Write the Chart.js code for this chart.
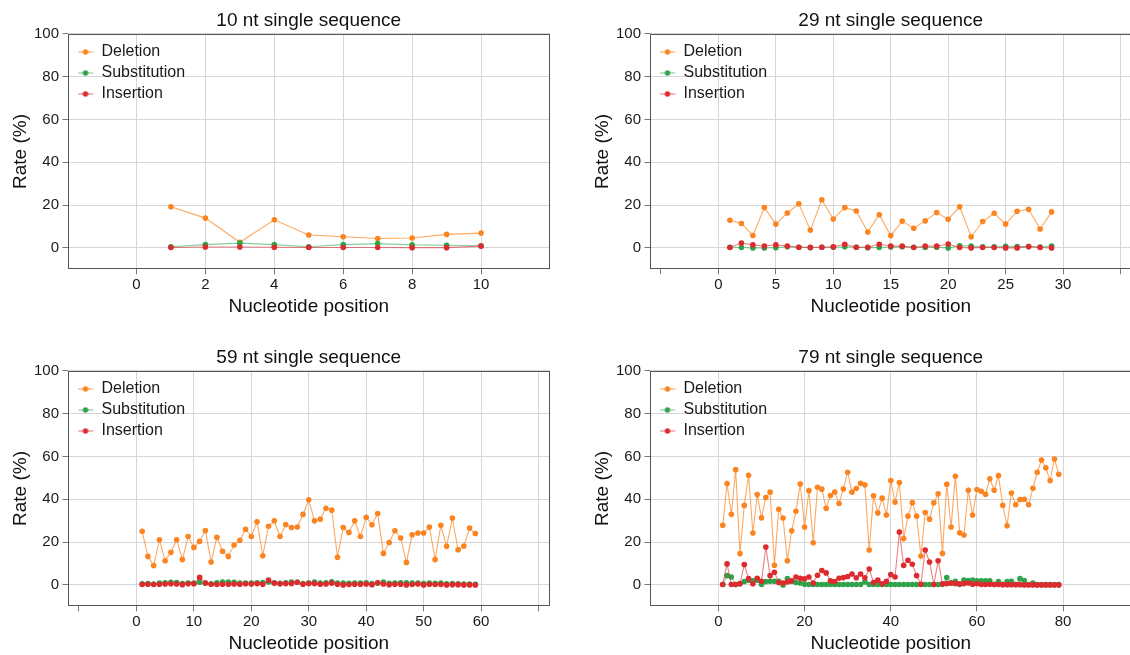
<!DOCTYPE html>
<html>
<head>
<meta charset="utf-8">
<script src="https://cdn.jsdelivr.net/npm/chart.js@4.4.1/dist/chart.umd.min.js"></script>
<style>
  html, body { margin: 0; padding: 0; background: #ffffff; overflow: hidden; }
  #wrap { position: relative; width: 1130px; height: 655px; overflow: hidden; }
  canvas { position: absolute; }
</style>
</head>
<body>
<div id="wrap">
  <canvas id="c1" width="565" height="327" style="left:0px;top:0px;width:565px;height:327px"></canvas>
  <canvas id="c2" width="565" height="327" style="left:582px;top:0px;width:565px;height:327px"></canvas>
  <canvas id="c3" width="565" height="327" style="left:0px;top:337px;width:565px;height:327px"></canvas>
  <canvas id="c4" width="565" height="327" style="left:582px;top:337px;width:565px;height:327px"></canvas>
</div>
<script>
// ---------------- DATA ----------------
const seriesNames = ['Deletion', 'Substitution', 'Insertion'];
const panelTitles = ['10 nt single sequence', '29 nt single sequence', '59 nt single sequence', '79 nt single sequence'];
const xTitle = 'Nucleotide position';
const yTitle = 'Rate (%)';
const yTicks = [0, 20, 40, 60, 80, 100];

// x-axis ticks and their labels for each panel
const xTicks10 = [0, 2, 4, 6, 8, 10];
const xTickLabels10 = ['0', '2', '4', '6', '8', '10'];
const xTicks29 = [-5, 0, 5, 10, 15, 20, 25, 30, 35];
const xTickLabels29 = ['', '0', '5', '10', '15', '20', '25', '30', ''];
const xTicks59 = [-10, 0, 10, 20, 30, 40, 50, 60, 70];
const xTickLabels59 = ['', '0', '10', '20', '30', '40', '50', '60', ''];
const xTicks79 = [0, 20, 40, 60, 80];
const xTickLabels79 = ['0', '20', '40', '60', '80'];

// 10 nt
const del10 = [19.2, 13.9, 2.6, 13.1, 6.0, 5.2, 4.4, 4.6, 6.3, 6.9];
const sub10 = [0.5, 1.5, 2.2, 1.5, 0.5, 1.5, 2.0, 1.4, 1.2, 1.0];
const ins10 = [0.2, 0.4, 0.4, 0.3, 0.2, 0.2, 0.2, 0.1, 0.1, 0.8];

// 29 nt
const del29 = [12.9, 11.4, 5.8, 18.8, 11.1, 16.3, 20.6, 8.3, 22.5, 13.5, 18.8, 17.2, 7.4, 15.5, 5.8,
               12.5, 9.2, 12.6, 16.5, 13.4, 19.2, 5.2, 12.3, 16.2, 11.1, 17.1, 18.0, 8.8, 16.8];
const sub29 = [0.3, 0.2, 0.0, 0.0, 0.1, 0.5, 0.3, 0.1, 0.3, 0.3, 0.5, 0.3, 0.1, 0.2, 0.4,
               0.5, 0.3, 0.2, 0.3, 0.0, 1.0, 0.8, 0.5, 0.5, 0.7, 0.6, 0.6, 0.4, 0.9];
const ins29 = [0.2, 2.3, 1.4, 0.9, 1.4, 0.9, 0.3, 0.3, 0.3, 0.5, 1.7, 0.3, 0.3, 1.7, 0.9,
               0.8, 0.2, 0.8, 0.8, 1.8, 0.2, 0.0, 0.2, 0.2, 0.0, 0.0, 0.6, 0.2, 0.0];

// 59 nt
const del59 = [25.0, 13.3, 9.0, 21.1, 11.3, 15.2, 21.1, 11.8, 22.6, 17.5, 20.3, 25.4, 10.7, 22.2, 15.7,
               13.3, 18.6, 20.8, 26.0, 22.6, 29.5, 13.6, 27.4, 29.9, 22.6, 28.2, 26.8, 27.0, 32.9, 39.7,
               29.9, 30.7, 35.8, 34.9, 12.9, 26.8, 24.5, 29.9, 22.6, 31.5, 28.1, 33.3, 14.7, 19.8, 25.3,
               21.9, 10.5, 23.4, 24.2, 24.2, 27.0, 11.8, 27.8, 18.0, 31.2, 16.4, 18.1, 26.5, 24.0];
const sub59 = [0.5, 0.6, 0.4, 0.8, 1.0, 1.2, 1.1, 0.6, 0.9, 0.9, 1.2, 0.9, 0.5, 1.0, 1.3,
               1.3, 1.2, 0.8, 0.9, 0.9, 1.0, 1.1, 1.4, 1.0, 0.7, 1.0, 1.3, 1.2, 0.6, 0.8,
               1.3, 0.8, 1.0, 1.4, 0.9, 0.8, 0.7, 0.9, 0.9, 1.0, 0.6, 0.8, 1.3, 0.7, 0.9,
               1.0, 1.0, 0.8, 0.9, 0.6, 0.8, 0.7, 0.8, 0.5, 0.6, 0.5, 0.4, 0.4, 0.3];
const ins59 = [0.2, 0.3, 0.2, 0.3, 0.4, 0.5, 0.4, 0.1, 0.5, 0.5, 3.5, 0.8, 0.3, 0.2, 0.3,
               0.3, 0.4, 0.3, 0.5, 0.4, 0.6, 0.3, 2.2, 0.8, 0.5, 0.6, 0.7, 1.2, 0.3, 0.7,
               0.6, 0.3, 0.4, 0.8, 0.3, 0.0, 0.2, 0.3, 0.3, 0.4, 0.1, 1.0, 0.4, 0.1, 0.3,
               0.3, 0.0, 0.2, 0.4, 0.0, 0.3, 0.2, 0.2, 0.0, 0.1, 0.1, 0.0, 0.0, 0.0];

// 79 nt
const del79 = [27.8, 47.3, 33.0, 53.8, 14.6, 37.1, 51.2, 24.2, 42.2, 31.3, 40.8, 43.3, 9.2, 35.3, 31.2,
               11.3, 25.3, 34.4, 47.1, 27.0, 44.0, 19.7, 45.6, 44.7, 35.8, 41.7, 43.4, 38.0, 44.8, 52.6,
               43.3, 45.0, 47.4, 46.7, 16.3, 41.6, 33.6, 40.5, 32.6, 48.7, 38.6, 47.8, 21.6, 32.1, 38.4,
               32.1, 13.5, 33.8, 30.7, 38.3, 42.5, 14.7, 47.0, 27.0, 50.7, 24.3, 23.3, 44.2, 32.6, 44.5,
               43.7, 42.3, 49.5, 44.2, 51.0, 37.2, 27.6, 42.9, 37.4, 39.8, 40.0, 37.4, 45.1, 52.6, 58.3,
               54.7, 48.7, 58.8, 51.6];
const sub79 = [0.2, 4.3, 3.7, 0.2, 0.5, 1.6, 2.2, 1.9, 2.2, 0.2, 1.6, 1.7, 1.7, 1.7, 0.0,
               2.9, 1.7, 1.1, 0.9, 0.3, 0.2, 0.2, 0.2, 0.2, 0.2, 0.2, 0.2, 0.2, 0.2, 0.2,
               0.2, 0.2, 0.2, 1.4, 0.2, 0.2, 0.2, 0.2, 0.2, 0.2, 0.2, 0.2, 0.2, 0.2, 0.2,
               0.2, 0.2, 0.2, 0.2, 0.2, 0.2, 0.2, 3.4, 0.8, 1.7, 0.2, 2.2, 2.0, 2.2, 1.9,
               1.9, 1.9, 1.9, 0.2, 1.6, 0.2, 1.6, 1.7, 0.2, 2.9, 2.0, 0.2, 0.8, 0.1, 0.1,
               0.1, 0.1, 0.1, 0.1];
const ins79 = [0.2, 9.8, 0.2, 0.2, 0.6, 9.5, 2.9, 0.5, 3.1, 1.7, 17.7, 4.3, 5.9, 1.1, 0.9,
               1.4, 1.9, 3.7, 3.1, 2.8, 3.7, 0.9, 4.5, 6.7, 5.6, 1.9, 1.6, 3.1, 3.4, 3.9,
               5.1, 3.3, 5.1, 3.3, 7.4, 1.1, 2.2, 0.5, 1.7, 4.8, 3.7, 24.7, 9.1, 11.5, 9.6,
               4.3, 0.3, 16.3, 10.7, 0.2, 11.3, 0.5, 0.6, 0.9, 0.6, 0.5, 0.6, 0.9, 0.3, 0.6,
               0.2, 0.2, 0.3, 0.2, 0.2, 0.1, 0.1, 0.1, 0.1, 0.1, 0.0, 0.0, 0.0, 0.0, 0.0,
               0.0, 0.0, 0.0, 0.0];

// ---------------- STYLE ----------------
const FONT = "'Liberation Sans', Arial, Helvetica, sans-serif";
Chart.defaults.font.family = FONT;
Chart.defaults.color = '#1a1a1a';

const dotColors = ['#fb8420', '#2ea34a', '#dc2a2e'];
const lineColors = ['rgba(251,140,45,0.75)', 'rgba(60,170,90,0.6)', 'rgba(220,45,50,0.6)'];
const gridColor = '#d6d6d6';
const frameColor = '#555555';

function makeMarker(i) {
  const c = document.createElement('canvas');
  c.width = 16; c.height = 8;
  const g = c.getContext('2d');
  g.strokeStyle = lineColors[i];
  g.lineWidth = 1.2;
  g.beginPath(); g.moveTo(0.5, 4); g.lineTo(15.5, 4); g.stroke();
  g.fillStyle = dotColors[i];
  g.beginPath(); g.arc(8, 4, 2.7, 0, Math.PI * 2); g.fill();
  return c;
}
const markers = [0, 1, 2].map(makeMarker);

const framePlugin = {
  id: 'frame',
  afterLayout(chart) {
    // put the legend box in the top-left corner of the plot area
    const lg = chart.legend, a = chart.chartArea;
    if (lg) {
      const w = lg.width, h = lg.height;
      lg.left = a.left + 5; lg.top = a.top + 2;
      lg.right = lg.left + w; lg.bottom = lg.top + h;
    }
  },
  afterDatasetsDraw(chart) {
    const a = chart.chartArea, ctx = chart.ctx;
    const l = Math.round(a.left) + 0.5, t = Math.round(a.top) + 0.5;
    const r = Math.round(a.right) - 0.5, b = Math.round(a.bottom) - 0.5;
    ctx.save();
    ctx.strokeStyle = frameColor;
    ctx.lineWidth = 1;
    ctx.strokeRect(l, t, r - l, b - t);
    ctx.restore();
  }
};

function range1(n) { const a = []; for (let i = 1; i <= n; i++) a.push(i); return a; }

function makePanel(canvasId, title, xMin, xMax, ticks, tickLabels, del, sub, ins) {
  const pos = range1(del.length);
  const series = [del, sub, ins];
  const datasets = series.map((vals, i) => ({
    label: seriesNames[i],
    data: vals.map((v, k) => ({ x: pos[k], y: v })),
    borderColor: lineColors[i],
    backgroundColor: dotColors[i],
    pointBackgroundColor: dotColors[i],
    pointBorderColor: dotColors[i],
    pointBorderWidth: 0,
    pointRadius: 2.8,
    borderWidth: 1.1,
    tension: 0,
    order: 2 - i
  }));
  new Chart(document.getElementById(canvasId), {
    type: 'line',
    data: { datasets },
    plugins: [framePlugin],
    options: {
      responsive: false,
      animation: false,
      events: [],
      layout: { padding: { left: 0, right: 15, top: 0, bottom: 0 } },
      scales: {
        x: {
          type: 'linear',
          min: xMin, max: xMax,
          afterBuildTicks: (s) => { s.ticks = ticks.map(v => ({ value: v })); },
          afterFit: (s) => { s.height = 57.7; },
          ticks: {
            autoSkip: false, maxRotation: 0, minRotation: 0,
            padding: 2,
            font: { size: 15 }, color: '#1a1a1a',
            callback: (v, idx) => tickLabels[idx]
          },
          grid: {
            color: (ctx) => (ctx.tick && ctx.tick.value < 0) ? 'rgba(0,0,0,0)' : gridColor,
            tickColor: '#777777',
            tickLength: 5,
            lineWidth: 1
          },
          border: { display: false },
          title: {
            display: true, text: xTitle,
            font: { size: 19 }, color: '#111111',
            padding: { top: 0, bottom: 9 }
          }
        },
        y: {
          type: 'linear',
          min: -10, max: 100,
          afterBuildTicks: (s) => { s.ticks = yTicks.map(v => ({ value: v })); },
          afterFit: (s) => { s.width = 67.5; },
          ticks: {
            padding: 3.5,
            font: { size: 15 }, color: '#1a1a1a',
            callback: (v) => String(v)
          },
          grid: { color: gridColor, tickColor: '#777777', tickLength: 5, lineWidth: 1 },
          border: { display: false },
          title: {
            display: true, text: yTitle,
            font: { size: 19 }, color: '#111111',
            padding: { top: 9.6, bottom: 0 }
          }
        }
      },
      plugins: {
        title: {
          display: true, text: title, fullSize: false,
          font: { size: 19, weight: 'normal' }, color: '#111111',
          padding: { top: 9.6, bottom: 1.3 }
        },
        tooltip: { enabled: false },
        legend: {
          display: true,
          position: 'chartArea',
          align: 'start',
          title: { display: true, text: '', font: { size: 1, lineHeight: 1 }, padding: { top: 2.3, bottom: 0 } },
          labels: {
            usePointStyle: true,
            boxWidth: 16,
            padding: 5,
            font: { size: 16 },
            color: '#1a1a1a',
            sort: (a, b) => a.datasetIndex - b.datasetIndex,
            generateLabels: (chart) => {
              const items = Chart.defaults.plugins.legend.labels.generateLabels(chart);
              items.forEach(it => { it.pointStyle = markers[it.datasetIndex]; });
              return items;
            }
          }
        }
      }
    }
  });
}

makePanel('c1', panelTitles[0], -2, 12, xTicks10, xTickLabels10, del10, sub10, ins10);
makePanel('c2', panelTitles[1], -6, 36, xTicks29, xTickLabels29, del29, sub29, ins29);
makePanel('c3', panelTitles[2], -12, 72, xTicks59, xTickLabels59, del59, sub59, ins59);
makePanel('c4', panelTitles[3], -16, 96, xTicks79, xTickLabels79, del79, sub79, ins79);
</script>
</body>
</html>
